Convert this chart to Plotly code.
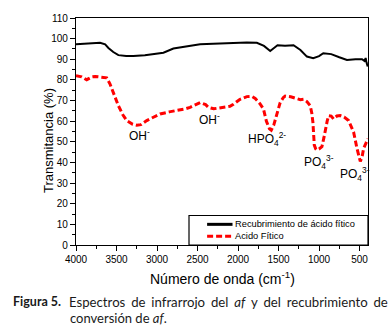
import plotly.graph_objects as go

# FTIR spectrum of the phytic acid conversion coating (solid black)
coat_wn = [4000, 3850, 3703, 3640, 3600, 3540, 3477, 3380, 3292, 3150, 3000, 2921, 2798,
           2650, 2468, 2307, 2100, 1891, 1768, 1680, 1603, 1560, 1513, 1420, 1315, 1230,
           1150, 1072, 1000, 948, 850, 750, 656, 550, 470, 440, 425, 415, 408, 400]
coat_t = [97.3, 97.5, 98.0, 97.2, 95.5, 93.5, 92.0, 91.6, 91.6, 92.0, 93.0, 93.2, 95.2,
          96.3, 97.3, 97.5, 97.9, 98.1, 98.0, 96.5, 94.0, 95.5, 96.8, 96.5, 96.8, 94.5,
          91.3, 90.5, 91.5, 92.9, 92.5, 91.0, 89.7, 90.0, 90.0, 89.2, 90.6, 88.5, 87.3, 86.5]

# FTIR spectrum of phytic acid (red dashed)
acid_wn = [4000, 3930, 3868, 3800, 3765, 3700, 3621, 3580, 3539, 3477, 3420, 3374, 3300,
           3250, 3200, 3127, 3045, 2962, 2850, 2756, 2650, 2592, 2540, 2468, 2400, 2365,
           2300, 2180, 2100, 2057, 1980, 1891, 1830, 1788, 1730, 1686, 1650, 1612, 1590,
           1560, 1530, 1480, 1440, 1418, 1350, 1294, 1230, 1191, 1150, 1109, 1090, 1076,
           1059, 1040, 1027, 1000, 965, 940, 923, 900, 882, 850, 821, 780, 738, 690, 636,
           600, 574, 532, 491, 470, 450, 420, 408, 400]
acid_t = [82.0, 81.5, 80.1, 81.5, 81.7, 81.5, 81.0, 78.0, 73.8, 67.5, 63.0, 60.3, 58.5,
          58.0, 58.3, 60.3, 61.9, 63.5, 64.5, 65.1, 66.0, 66.7, 67.5, 69.0, 68.0, 66.7,
          66.0, 66.7, 67.2, 68.2, 70.5, 71.9, 72.0, 71.0, 68.5, 65.9, 60.0, 56.3, 55.6,
          58.0, 62.0, 69.0, 71.5, 72.2, 71.8, 71.0, 70.4, 70.6, 69.5, 67.5, 64.0, 59.5,
          48.4, 46.5, 46.0, 46.5, 47.6, 52.0, 56.3, 60.0, 62.7, 62.5, 61.1, 62.5, 62.7,
          62.0, 60.3, 57.5, 54.8, 46.8, 40.5, 42.5, 46.8, 49.5, 50.8, 51.5]

series_names = ["Recubrimiento de ácido fítico", "Acido Fítico"]
series_colors = ["black", "#ff0000"]
series_widths = [2, 3]
series_dash = ["solid", "6px,3px"]

# Band assignments: label text and anchor position (wavenumber, %T)
band_text = ["OH<sup>-</sup>", "OH<sup>-</sup>", "HPO<sub>4</sub><sup>2-</sup>",
             "PO<sub>4</sub><sup>3-</sup>", "PO<sub>4</sub><sup>3-</sup>"]
band_wn = [3222, 2357, 1640, 1000, 555]
band_t = [53.5, 61.0, 51.6, 40.2, 34.3]

x_ticks = [4000, 3500, 3000, 2500, 2000, 1500, 1000, 500]
y_ticks = list(range(0, 111, 10))

FONT = "Liberation Sans, Arial, sans-serif"
CAP_FONT = "Lato, sans-serif"

fig = go.Figure()
for wn, t, name, col, w, d in zip([coat_wn, acid_wn], [coat_t, acid_t], series_names,
                                  series_colors, series_widths, series_dash):
    fig.add_trace(go.Scatter(x=wn, y=t, mode="lines", name=name, showlegend=False,
                             line=dict(color=col, width=w, dash=d)))

for txt, wx, wy in zip(band_text, band_wn, band_t):
    fig.add_annotation(x=wx, y=wy, text=txt, showarrow=False,
                       font=dict(family=FONT, size=12, color="black"))

# Compact boxed legend in the lower-right corner of the plot
fig.add_shape(type="rect", xref="paper", yref="paper", x0=0.387, x1=1.0, y0=0.0, y1=0.13,
              line=dict(color="black", width=1.2), fillcolor="white", layer="above")
legend_y = [0.091, 0.039]
for ly, name, col, w, d in zip(legend_y, series_names, series_colors, series_widths, series_dash):
    fig.add_shape(type="line", xref="paper", yref="paper", x0=0.449, x1=0.536, y0=ly, y1=ly,
                  line=dict(color=col, width=3, dash=d), layer="above")
    fig.add_annotation(xref="paper", yref="paper", x=0.538, y=ly, xanchor="left",
                       yanchor="middle", text=name, showarrow=False,
                       font=dict(family=FONT, size=9.3, color="black"))

# Axis titles
fig.add_annotation(xref="paper", yref="paper", x=0.5, y=-0.095, yanchor="top",
                   text="Número de onda (cm<sup>-1</sup>)", showarrow=False,
                   font=dict(family=FONT, size=14, color="black"))
fig.add_annotation(xref="paper", yref="paper", x=-0.127, y=0.46, textangle=-90,
                   text="Transmitancia (%)", showarrow=False,
                   font=dict(family=FONT, size=13, color="black"))

# Figure caption (justified first line, hanging indent)
sp = " \u2009\u200a"
fig.add_annotation(xref="paper", yref="paper", x=-0.222, y=-0.207, xanchor="left",
                   yanchor="top", text="<b>Figura 5.</b>", showarrow=False,
                   font=dict(family=CAP_FONT, size=12.5, color="#1a1a1a"))
fig.add_annotation(xref="paper", yref="paper", x=-0.031, y=-0.207, xanchor="left",
                   yanchor="top",
                   text=sp.join(["Espectros", "de", "infrarrojo", "del", "<i>af</i>", "y",
                                 "del", "recubrimiento", "de"]),
                   showarrow=False, font=dict(family=CAP_FONT, size=13.2, color="#1a1a1a"))
fig.add_annotation(xref="paper", yref="paper", x=-0.027, y=-0.277, xanchor="left",
                   yanchor="top", text="conversión de <i>af</i>.",
                   showarrow=False, font=dict(family=CAP_FONT, size=13, color="#1a1a1a"))

axis_common = dict(showline=True, linecolor="black", linewidth=1.2, mirror=True,
                   ticks="outside", ticklen=5, tickwidth=1, tickcolor="black",
                   showgrid=False, zeroline=False,
                   tickfont=dict(family=FONT, size=10, color="black"))

fig.update_xaxes(range=[4000, 396], tickvals=x_ticks,
                 minor=dict(ticks="outside", ticklen=3, dtick=250, tick0=0, tickcolor="black"),
                 **axis_common)
fig.update_yaxes(range=[0, 110], tickvals=y_ticks,
                 minor=dict(ticks="outside", ticklen=3, dtick=5, tick0=0, tickcolor="black"),
                 **axis_common)

fig.update_layout(
    width=391, height=331,
    margin=dict(l=76, r=23, t=14, b=86),
    plot_bgcolor="white", paper_bgcolor="white",
    showlegend=False,
)

fig.write_html("out.html")
